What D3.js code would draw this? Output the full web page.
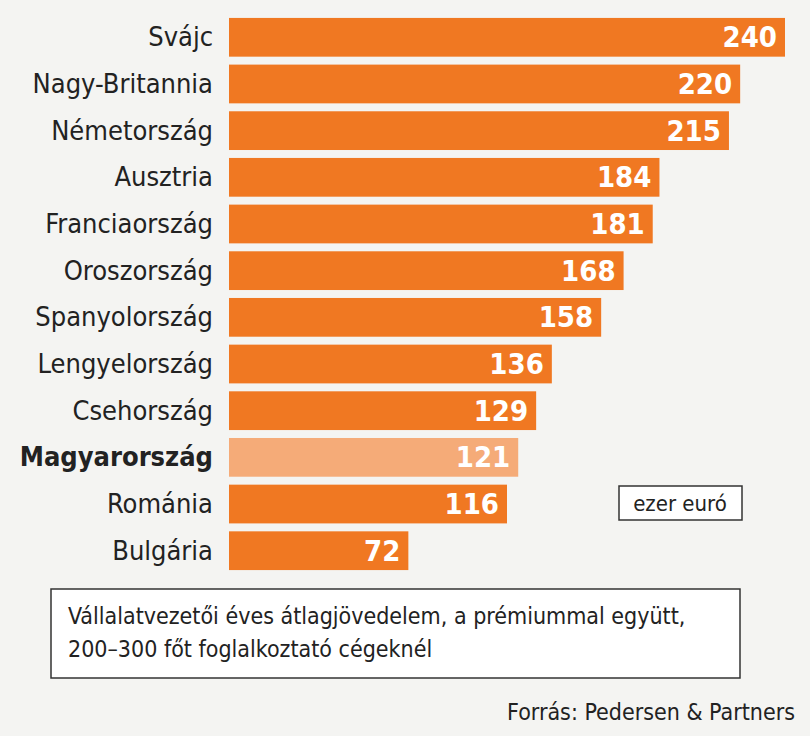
<!DOCTYPE html>
<html><head><meta charset="utf-8">
<script src="https://cdn.jsdelivr.net/npm/d3@7"></script>
<style>
body{margin:0;background:#fff;}
text{font-family:"Liberation Sans Narrow","DejaVu Sans Condensed",sans-serif;}
</style></head><body>
<svg id="chart"></svg>
<script>
const countries = ["Svájc","Nagy-Britannia","Németország","Ausztria","Franciaország","Oroszország","Spanyolország","Lengyelország","Csehország","Magyarország","Románia","Bulgária"];
const values = [240,220,215,184,181,168,158,136,129,121,116,72];
const highlight = "Magyarország";

const W = 810, H = 736;
const svg = d3.select("#chart").attr("width", W).attr("height", H);
svg.append("rect").attr("width", W).attr("height", H).attr("fill", "#f4f4f2");

const x = d3.scaleLinear().domain([-8, 240]).range([229, 785]);
const y = d3.scaleBand().domain(countries).range([17, 571]).paddingInner(0.17).paddingOuter(0.02);

const rows = svg.append("g").selectAll("g").data(countries).join("g");
rows.append("rect")
  .attr("x", 229).attr("y", d => y(d))
  .attr("width", (d, i) => x(values[i]) - 229).attr("height", y.bandwidth())
  .attr("fill", d => d === highlight ? "#f5ab78" : "#f07822");
rows.append("text")
  .attr("x", (d, i) => x(values[i]) - 8).attr("y", d => y(d) + y.bandwidth() / 2 + 10)
  .attr("text-anchor", "end").attr("fill", "#fff").attr("font-weight", "bold")
  .attr("font-size", 29).text((d, i) => values[i]);
rows.append("text")
  .attr("x", 213).attr("y", d => y(d) + y.bandwidth() / 2 + 9)
  .attr("text-anchor", "end").attr("fill", "#222")
  .attr("font-weight", d => d === highlight ? "bold" : "normal")
  .attr("font-size", 27).text(d => d);

// unit box
svg.append("rect").attr("x", 619).attr("y", 486).attr("width", 123).attr("height", 34)
  .attr("fill", "#fff").attr("stroke", "#333").attr("stroke-width", 1.5);
svg.append("text").attr("x", 680).attr("y", 511).attr("text-anchor", "middle")
  .attr("font-size", 22).attr("fill", "#222").text("ezer euró");

// note box
svg.append("rect").attr("x", 51).attr("y", 589).attr("width", 689).attr("height", 89)
  .attr("fill", "#fff").attr("stroke", "#333").attr("stroke-width", 1.5);
svg.append("text").attr("x", 68).attr("y", 624).attr("font-size", 23).attr("fill", "#222")
  .text("Vállalatvezetői éves átlagjövedelem, a prémiummal együtt,");
svg.append("text").attr("x", 68).attr("y", 657).attr("font-size", 23).attr("fill", "#222")
  .text("200–300 főt foglalkoztató cégeknél");

svg.append("text").attr("x", 795).attr("y", 720).attr("text-anchor", "end")
  .attr("font-size", 23).attr("fill", "#222").text("Forrás: Pedersen & Partners");
</script></body></html>
